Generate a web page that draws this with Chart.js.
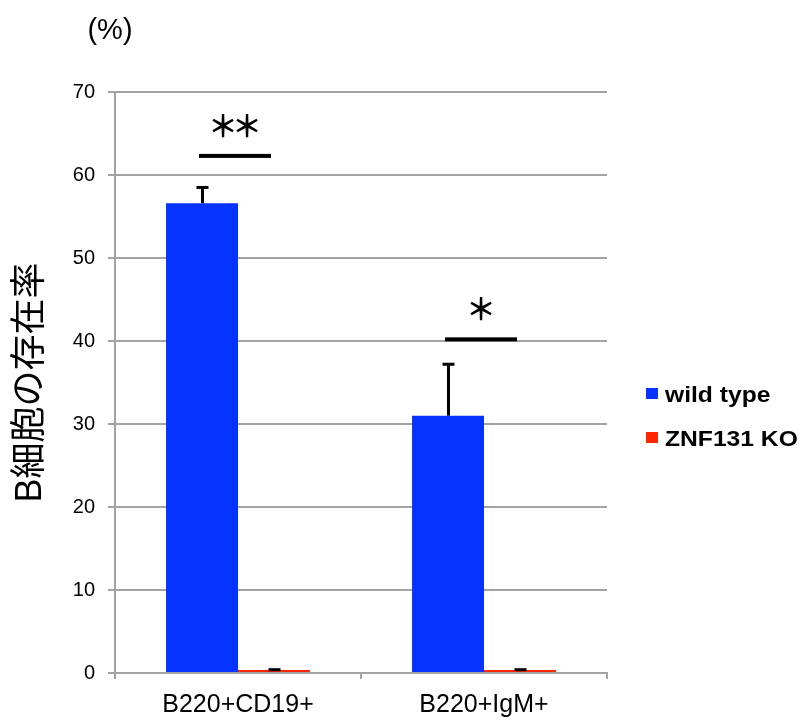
<!DOCTYPE html>
<html>
<head>
<meta charset="utf-8">
<script src="https://cdn.jsdelivr.net/npm/chart.js@4.4.0/dist/chart.umd.min.js"></script>
<style>
  html, body { margin: 0; padding: 0; background: #ffffff; }
  #wrap { width: 803px; height: 720px; }
</style>
</head>
<body>
<div id="wrap"><canvas id="c" width="803" height="720"></canvas></div>
<script>
// Cell populations and the two genotypes compared
const categories = ['B220+CD19+', 'B220+IgM+'];
const seriesNames = ['wild type', 'ZNF131 KO'];
const seriesColors = ['#0433FF', '#FF2600'];

// Mean percentages and upper error (SD) per genotype
const wildType = [56.6, 31.0];
const wildTypeErr = [1.9, 6.2];
const knockout = [0.35, 0.35];
const knockoutErr = [0.05, 0.05];

// Significance brackets: height of the bar line and the star label
const sigLevel = [62.3, 40.2];
const sigMarks = ['**', '*'];

// Y axis ticks (percent)
const yTicks = [0, 10, 20, 30, 40, 50, 60, 70];

const gridColor = '#a3a3a3';
const latin = '"Liberation Sans", Arial, Helvetica, sans-serif';
const cjk = '"Liberation Sans", "Noto Sans CJK JP", sans-serif';

// Upward error bars with caps on every bar
const errorBars = {
  id: 'errorBars',
  afterDatasetsDraw(chart) {
    const ctx = chart.ctx;
    const ys = chart.scales.y;
    const errs = [wildTypeErr, knockoutErr];
    ctx.save();
    ctx.strokeStyle = '#000';
    ctx.lineWidth = 3;
    chart.data.datasets.forEach((ds, di) => {
      const meta = chart.getDatasetMeta(di);
      meta.data.forEach((bar, i) => {
        const top = ys.getPixelForValue(ds.data[i] + errs[di][i]);
        const x = Math.round(bar.x) + 0.5;
        ctx.beginPath();
        ctx.moveTo(x, bar.y);
        ctx.lineTo(x, top);
        ctx.stroke();
        ctx.beginPath();
        ctx.moveTo(x - 6, top);
        ctx.lineTo(x + 6, top);
        ctx.stroke();
      });
    });
    ctx.restore();
  }
};

// Significance line with asterisks above each category
const significance = {
  id: 'significance',
  afterDatasetsDraw(chart) {
    const ctx = chart.ctx;
    const xs = chart.scales.x;
    const ys = chart.scales.y;
    ctx.save();
    ctx.fillStyle = '#000';
    ctx.font = 'bold 30px "Noto Sans CJK JP", "DejaVu Sans", sans-serif';
    sigLevel.forEach((lvl, i) => {
      const xc = xs.getPixelForValue(i) - 3;
      const yl = ys.getPixelForValue(lvl);
      ctx.fillRect(xc - 36, yl - 2, 72, 4);
      const n = sigMarks[i].length;
      for (let k = 0; k < n; k++) {
        const gx = xc + (k - (n - 1) / 2) * 24;
        const m = ctx.measureText('＊');
        const asc = m.actualBoundingBoxAscent, desc = m.actualBoundingBoxDescent;
        const left = m.actualBoundingBoxLeft, right = m.actualBoundingBoxRight;
        const cy = yl - 30;
        ctx.fillText('＊', gx - (right - left) / 2, cy + (asc - desc) / 2);
      }
    });
    ctx.restore();
  }
};

// Unit label and legend at the side
const annotations = {
  id: 'annotations',
  afterDraw(chart) {
    const ctx = chart.ctx;
    ctx.save();
    ctx.fillStyle = '#000';
    ctx.font = '29px ' + latin;
    ctx.textAlign = 'center';
    ctx.textBaseline = 'middle';
    ctx.fillText('(%)', 110, 31);

    const rows = [402, 446];
    seriesNames.forEach((name, i) => {
      ctx.fillStyle = seriesColors[i];
      ctx.fillRect(646, rows[i] - 14, 12, 11);
      ctx.fillStyle = '#000';
      ctx.font = 'bold 22px ' + latin;
      ctx.textAlign = 'left';
      ctx.textBaseline = 'alphabetic';
      ctx.save();
      ctx.translate(665, rows[i]);
      ctx.scale(1.12, 1);
      ctx.fillText(name, 0, 0);
      ctx.restore();
    });
    ctx.restore();
  }
};

new Chart(document.getElementById('c'), {
  type: 'bar',
  data: {
    labels: categories,
    datasets: [
      { label: seriesNames[0], data: wildType, backgroundColor: seriesColors[0], borderWidth: 0 },
      { label: seriesNames[1], data: knockout, backgroundColor: seriesColors[1], borderWidth: 0 }
    ]
  },
  options: {
    responsive: false,
    devicePixelRatio: 1,
    animation: false,
    layout: { padding: { top: 92, right: 196, bottom: 0, left: 0 } },
    datasets: { bar: { categoryPercentage: 0.585, barPercentage: 1.0 } },
    plugins: {
      legend: { display: false },
      tooltip: { enabled: false }
    },
    scales: {
      x: {
        offset: true,
        grid: { display: true, drawOnChartArea: false, offset: true, tickLength: 6, color: gridColor, lineWidth: 2 },
        border: { color: gridColor, width: 2 },
        ticks: { color: '#000', font: { family: latin, size: 25 }, padding: 11, maxRotation: 0, autoSkip: false },
        afterFit(s) { s.height = 47; }
      },
      y: {
        min: 0,
        max: 70,
        afterBuildTicks(s) { s.ticks = yTicks.map(v => ({ value: v })); },
        ticks: { color: '#000', font: { family: latin, size: 20 }, padding: 13 },
        grid: { color: gridColor, lineWidth: 2, tickLength: 7 },
        border: { color: gridColor, width: 2 },
        title: {
          display: true,
          text: 'B細胞の存在率',
          color: '#000',
          font: { family: cjk, size: 36 },
          padding: { top: 9, bottom: 0 }
        },
        afterFit(s) { s.width = 115; }
      }
    }
  },
  plugins: [errorBars, significance, annotations]
});
</script>
</body>
</html>
